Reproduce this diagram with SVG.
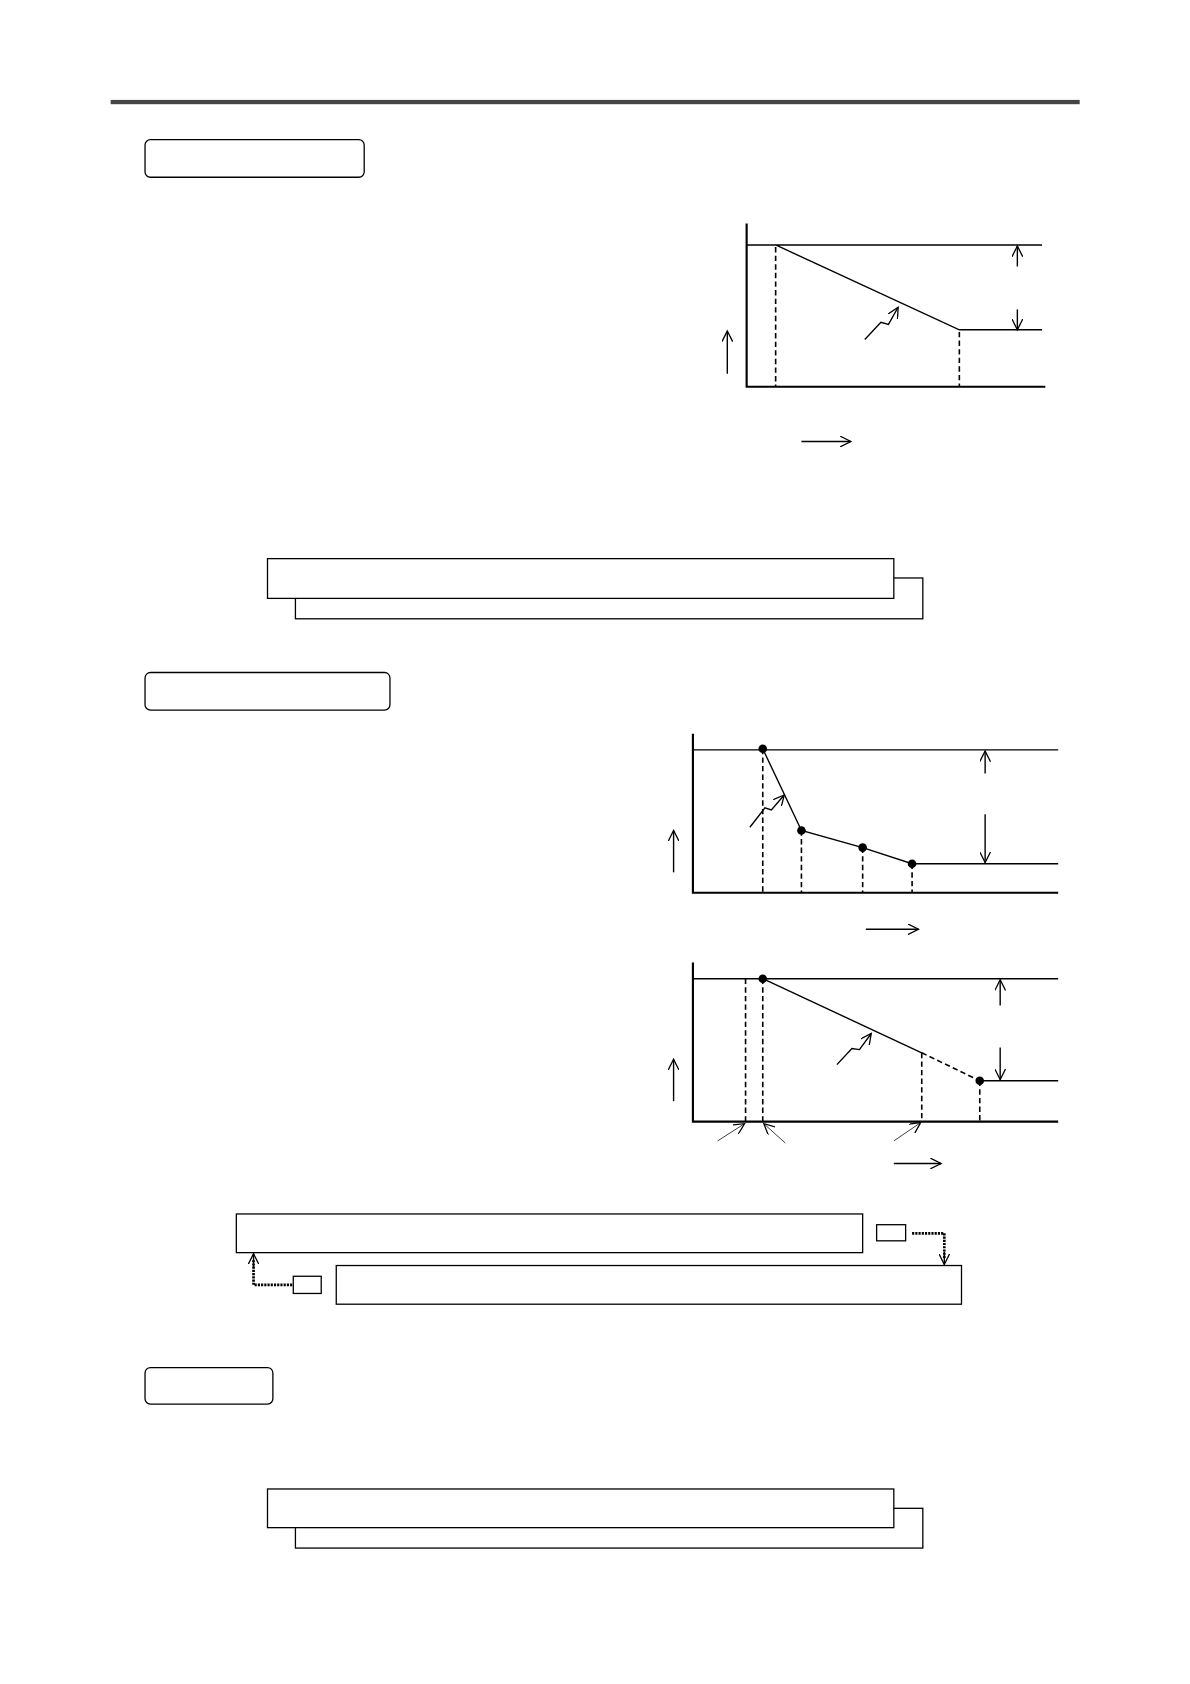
<svg xmlns="http://www.w3.org/2000/svg" width="1190" height="1684" viewBox="0 0 1190 1684">
<style>
.l{stroke:#000;stroke-width:1.3;fill:none}
.ax{stroke:#000;stroke-width:2;fill:none}
.d{stroke:#000;stroke-width:1.5;stroke-dasharray:5,3;fill:none}
.b{stroke:#000;stroke-width:1.2;fill:#fff}
.t{stroke:#000;stroke-width:0.7;fill:none}
.dot{stroke:#000;stroke-width:2.5;stroke-dasharray:2,1;fill:none}
</style>
<defs>
<marker id="a" markerWidth="12" markerHeight="10" refX="10" refY="5" orient="auto" markerUnits="userSpaceOnUse"><path d="M0,0 L10,5 L0,10" fill="none" stroke="#000" stroke-width="1.2"/></marker>
</defs>
<rect width="1190" height="1684" fill="#fff"/>
<g transform="scale(1.0743)">
<rect x="103" y="93" width="902" height="4" fill="#444"/>
<g id="hdr1"><rect x="135" y="130" width="204" height="35" rx="5" class="b"/></g>
<g id="chart1">
<path class="ax" d="M695,208 V360 H973"/>
<path class="l" d="M695,228 H970 M722,228 L893,307 H970"/>
<path class="d" d="M722,230 V360 M893,309 V360"/>
</g>
<g id="box1"><rect x="275" y="538" width="584" height="38" class="b"/><rect x="249" y="520" width="583" height="37" class="b"/></g>
<g id="hdr2"><rect x="135" y="626" width="228" height="35" rx="5" class="b"/></g>
<g id="chart2">
<path class="ax" d="M645,683 V831 H985"/>
<path class="l" d="M645,698 H985 M710,697 L746,773 L803,789 L849,804 H985"/>
<path class="d" d="M710,697 V831 M746,773 V831 M803,789 V831 M849,804 V831"/>
<circle cx="710" cy="697" r="4"/><circle cx="746" cy="773" r="4"/><circle cx="803" cy="789" r="4"/><circle cx="849" cy="804" r="4"/>
</g>
<g id="chart3">
<path class="ax" d="M645,896 V1044 H985"/>
<path class="l" d="M645,911 H985 M710,911 L858,980 M912,1006 H985"/>
<path class="d" d="M858,980 L912,1006"/>
<path class="d" d="M694,911 V1044 M710,911 V1044 M858,980 V1044 M912,1006 V1044"/>
<circle cx="710" cy="911" r="4"/><circle cx="912" cy="1006" r="4"/>
</g>
<g id="box2"><rect x="220" y="1130" width="583" height="36" class="b"/><rect x="313" y="1178" width="582" height="36" class="b"/></g>
<g id="s1"><rect x="816" y="1140" width="27" height="15" class="b"/></g>
<g id="s2"><rect x="273" y="1188" width="26" height="16" class="b"/></g>
<g id="hdr3"><rect x="135" y="1273" width="119" height="34" rx="5" class="b"/></g>
<g id="box3"><rect x="275" y="1404" width="584" height="37" class="b"/><rect x="249" y="1386" width="583" height="36" class="b"/></g>
<g id="connectors">
<path class="l" marker-end="url(#a)" d="M947,248 V229"/>
<path class="l" marker-end="url(#a)" d="M947,288 V307"/>
<path class="l" marker-end="url(#a)" d="M805,316 L820,300 L827,302 L836,286"/>
<path class="l" marker-end="url(#a)" d="M677,348 V308"/>
<path class="l" marker-end="url(#a)" d="M746,411 H792"/>
<path class="l" marker-end="url(#a)" d="M917,720 V699"/>
<path class="l" marker-end="url(#a)" d="M917,758 V803"/>
<path class="l" marker-end="url(#a)" d="M698,770 L712,752 L718,754 L730,740"/>
<path class="l" marker-end="url(#a)" d="M627,812 V773"/>
<path class="l" marker-end="url(#a)" d="M806,865 H855"/>
<path class="l" marker-end="url(#a)" d="M931,936 V912"/>
<path class="l" marker-end="url(#a)" d="M931,975 V1005"/>
<path class="l" marker-end="url(#a)" d="M779,991 L793,976 L800,977 L811,962"/>
<path class="l" marker-end="url(#a)" d="M627,1025 V986"/>
<path class="l" marker-end="url(#a)" d="M832,1083 H876"/>
<path class="t" marker-end="url(#a)" d="M668,1062 L693,1046"/>
<path class="t" marker-end="url(#a)" d="M731,1064 L711,1046"/>
<path class="t" marker-end="url(#a)" d="M832,1062 L857,1045"/>
<path class="dot" d="M849,1148 H879 V1172"/>
<path class="l" marker-end="url(#a)" d="M879,1165 V1177"/>
<path class="dot" d="M272,1196 H236 V1172"/>
<path class="l" marker-end="url(#a)" d="M236,1180 V1167"/>
</g>
</g>
</svg>
